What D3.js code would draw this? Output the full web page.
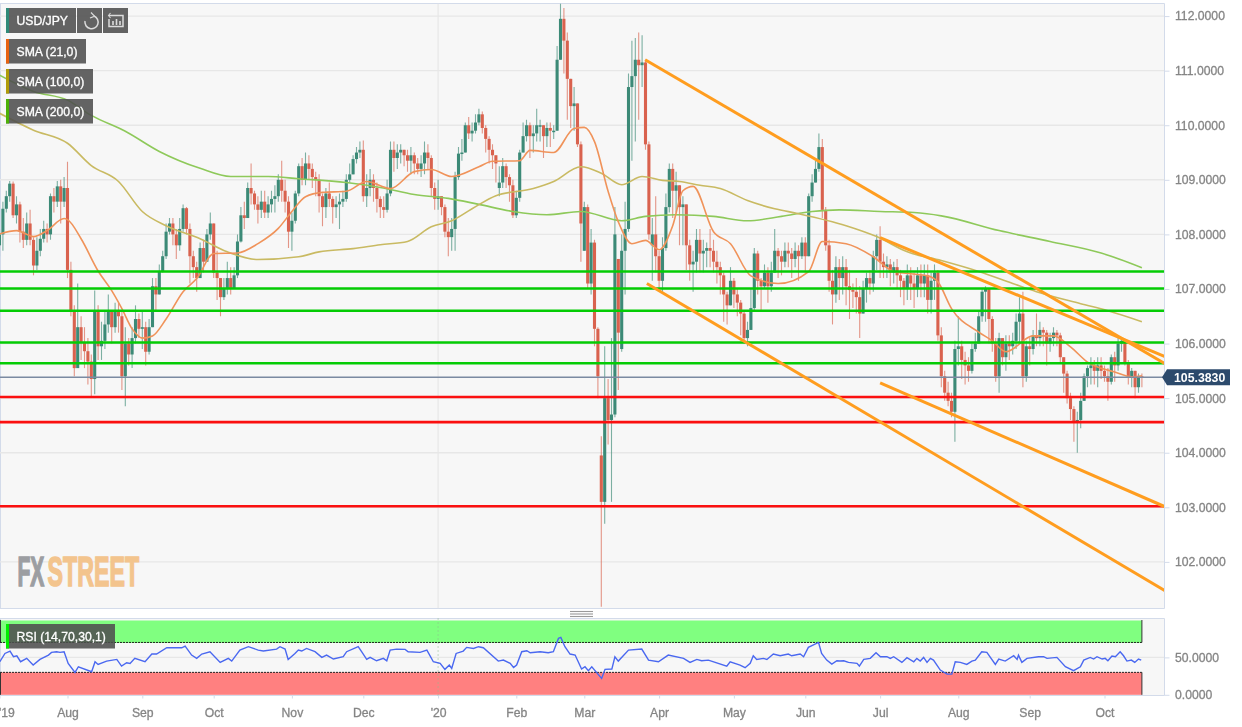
<!DOCTYPE html>
<html><head><meta charset="utf-8">
<script src="https://cdn.jsdelivr.net/npm/d3@7"></script>
<style>
html,body{margin:0;padding:0;background:#fff;overflow:hidden}
svg{display:block;filter:blur(0.35px)}
text{font-family:"Liberation Sans",Arial,sans-serif}
.axis text{fill:#858585;stroke:#858585;stroke-width:.3px;font-size:12.2px}
.axis path,.axis line{stroke:#d3dbea}
.lg{fill:#fff;stroke:#fff;stroke-width:.3px;font-size:12.2px}
</style></head><body><div id="c"></div>
<script>
// ---- daily close / high / low, one row per calendar month ----
const closes=[
108.0,108.47,108.7,108.93,108.35,108.55,108.05,107.9,108.2,107.9,107.43,107.7,107.92,108.1,108.0,108.7,108.6,108.88,108.6,108.85,
107.35,106.6,105.55,106.3,106.03,105.86,105.67,105.35,106.6,105.95,106.05,106.35,106.6,106.3,106.6,106.5,105.4,106.0,105.8,106.1,106.45,106.27,
106.3,105.85,106.3,107.05,106.9,107.33,107.6,108.05,108.2,108.0,107.8,108.1,108.48,108.1,107.6,107.4,107.2,107.75,107.5,108.0,108.2,
107.3,107.2,106.85,107.0,107.2,107.0,107.25,107.87,108.35,108.3,108.85,108.75,108.55,108.45,108.6,108.4,108.55,108.65,108.7,109.0,108.8,108.6,108.05,
108.25,108.75,109.25,109.0,109.3,109.2,109.05,109.0,108.7,108.5,108.75,108.65,108.5,108.55,108.6,108.65,109.0,109.1,109.38,109.5,109.55,
108.7,108.85,109.0,108.85,108.65,108.5,108.45,108.75,109.55,109.4,109.5,109.55,109.45,109.35,109.45,109.3,109.2,109.3,109.5,109.4,108.85,108.65,
108.7,108.5,108.05,107.95,108.1,109.05,109.48,109.5,110.0,109.85,109.9,110.05,110.2,109.95,109.75,109.55,109.45,109.3,108.95,109.25,109.05,108.9,108.35,
108.67,109.5,109.8,110.0,109.8,109.85,110.0,110.0,109.8,109.95,109.9,109.9,111.2,111.95,111.55,110.85,110.35,110.4,109.65,108.2,
108.5,107.1,107.85,106.27,105.4,103.1,105.0,104.6,104.7,108.0,106.2,107.7,108.1,110.7,110.9,111.2,111.1,111.15,109.65,108.0,108.0,107.6,
107.15,107.75,108.5,109.2,108.8,108.9,108.5,108.55,107.8,107.45,107.5,107.9,107.65,107.7,107.75,107.7,107.5,107.4,107.25,106.9,106.7,107.15,
106.9,106.75,106.55,106.1,106.25,106.65,107.65,107.15,107.05,107.3,107.05,107.3,107.7,107.6,107.5,107.7,107.65,107.55,107.7,107.6,107.85,
107.6,108.7,108.95,109.2,109.6,108.45,107.8,107.15,106.9,107.4,107.2,107.4,107.05,106.98,106.95,106.85,106.55,107.0,107.2,107.1,107.6,107.9,
107.5,107.4,107.45,107.3,107.4,107.25,107.15,107.0,107.25,107.1,107.0,107.25,107.1,107.25,106.8,107.15,107.3,106.15,105.4,105.1,104.95,104.75,105.9,
105.95,105.7,105.6,105.5,105.9,106.0,106.5,106.95,107.0,106.45,106.0,105.4,106.1,105.75,106.0,105.95,106.05,106.4,106.55,105.4,105.95,
105.9,106.15,106.1,106.25,106.2,106.0,106.1,106.2,106.15,105.75,105.45,105.0,104.8,104.55,104.6,104.95,105.4,105.55,105.6,105.5,105.6,105.5,
105.4,105.3,105.75,105.6,106.0,106.05,105.65,105.4,105.5,105.2,105.4,105.38];
const highs=[
108.1,108.6,108.8,108.98,108.97,108.7,108.6,108.3,108.4,108.45,107.95,107.95,108.1,108.25,108.2,108.75,108.85,108.98,109.0,109.05,
109.33,107.5,106.7,107.1,106.5,106.3,106.1,105.8,106.97,106.7,106.4,106.6,106.9,106.6,106.75,106.75,106.6,106.3,106.1,106.3,106.7,106.55,
106.6,106.4,106.45,107.2,107.2,107.45,107.7,108.2,108.3,108.3,108.1,108.3,108.55,108.5,108.2,107.7,107.5,107.85,107.9,108.1,108.4,
108.2,107.7,107.2,107.2,107.5,107.4,107.4,108.0,108.5,108.6,108.95,109.3,108.8,108.7,108.8,108.8,108.7,108.8,108.9,109.1,109.35,109.0,108.7,
108.4,108.8,109.3,109.4,109.5,109.45,109.3,109.15,109.1,108.75,108.85,108.95,108.7,108.7,108.75,108.8,109.1,109.3,109.45,109.6,109.7,
109.72,109.1,109.2,109.1,108.95,108.7,108.7,109.0,109.7,109.7,109.65,109.65,109.55,109.55,109.6,109.5,109.4,109.45,109.7,109.65,109.45,108.95,
109.0,108.7,108.55,108.3,108.3,109.15,109.6,109.75,110.05,110.15,110.05,110.2,110.3,110.25,110.0,109.8,109.65,109.45,109.25,109.4,109.3,109.1,109.0,
108.8,109.55,110.05,110.1,110.05,110.0,110.3,110.1,110.0,110.05,110.05,110.0,111.45,112.23,112.15,111.7,110.85,110.7,110.4,109.7,
108.6,108.55,108.1,107.9,106.3,104.3,105.95,105.35,106.1,108.5,107.55,108.0,108.6,110.95,111.55,111.6,111.7,111.65,111.2,109.7,108.3,108.7,
107.7,107.95,108.75,109.3,109.3,109.15,108.9,108.7,108.3,107.9,107.7,108.1,108.1,107.9,107.85,108.1,107.9,107.7,107.5,107.3,106.95,107.4,
107.2,107.0,106.8,106.6,106.4,107.0,107.75,107.7,107.2,107.45,107.4,107.5,108.1,107.75,107.7,107.85,107.85,107.75,107.85,107.8,107.95,
107.95,108.75,109.1,109.35,109.85,109.75,108.5,107.9,107.35,107.6,107.55,107.6,107.55,107.35,107.1,107.2,107.05,107.15,107.3,107.35,107.7,108.0,
108.15,107.65,107.6,107.55,107.5,107.55,107.35,107.2,107.45,107.4,107.3,107.4,107.45,107.45,107.45,107.3,107.45,107.35,106.3,105.5,105.3,105.1,106.05,
106.5,106.05,105.85,105.75,106.0,106.2,106.6,107.0,107.05,107.0,106.5,106.1,106.2,106.1,106.15,106.15,106.2,106.55,106.85,106.95,106.05,
106.1,106.25,106.55,106.4,106.3,106.25,106.2,106.3,106.25,106.2,105.75,105.5,105.1,104.85,104.75,105.1,105.45,105.6,105.75,105.7,105.75,105.75,
105.6,105.55,105.8,105.85,106.1,106.1,106.05,105.7,105.55,105.5,105.45,105.45];
const lows=[
107.6,107.7,108.4,108.6,108.3,108.2,107.85,107.75,107.8,107.8,107.25,107.35,107.6,107.85,107.85,107.9,108.4,108.5,108.2,108.5,
107.2,106.5,105.4,105.6,105.7,105.55,105.25,105.03,105.07,105.7,105.7,105.9,106.2,106.0,106.2,106.2,105.15,104.85,105.6,105.55,106.0,106.1,
105.9,105.6,105.8,106.3,106.6,106.9,107.3,107.55,108.0,107.8,107.55,107.7,108.05,108.0,107.1,107.2,106.95,107.2,107.3,107.5,107.9,
107.2,106.8,106.5,106.8,106.9,106.9,107.0,107.2,107.85,108.1,108.3,108.55,108.45,108.2,108.3,108.3,108.3,108.4,108.4,108.6,108.6,108.4,107.75,
107.7,108.2,108.7,108.9,108.9,109.0,108.85,108.7,108.4,108.15,108.3,108.5,108.2,108.3,108.1,108.5,108.6,108.95,109.1,109.3,109.4,
108.6,108.5,108.7,108.6,108.4,108.3,108.3,108.4,108.7,109.15,109.2,109.3,109.25,109.15,109.1,109.1,109.1,109.05,109.1,109.2,108.7,108.45,
108.45,108.35,107.95,107.6,107.7,107.7,109.0,109.35,109.5,109.75,109.7,109.85,110.0,109.85,109.5,109.3,109.2,108.95,108.7,108.85,108.85,108.6,108.3,
108.3,108.6,109.5,109.7,109.4,109.5,109.7,109.7,109.4,109.6,109.6,109.75,109.9,111.2,110.95,110.1,109.95,109.9,109.6,107.5,
107.9,107.0,106.9,105.95,105.0,101.18,102.7,104.15,103.1,104.65,105.15,105.85,106.9,108.05,109.35,109.7,110.1,110.7,109.55,107.9,107.15,107.3,
106.95,106.95,107.7,108.4,108.3,108.4,107.8,107.8,107.35,107.15,106.95,107.3,107.3,107.3,107.4,107.4,107.3,107.1,106.9,106.4,106.35,106.7,
106.65,106.5,106.15,106.0,105.95,106.25,106.6,106.9,106.6,107.0,106.75,106.95,107.3,107.2,107.25,107.4,107.4,107.2,107.4,107.15,107.55,
107.3,107.6,108.6,108.95,109.15,108.3,107.7,106.95,106.35,106.75,106.8,106.9,106.7,106.45,106.65,106.55,106.1,106.55,106.75,106.9,106.95,107.35,
107.2,107.2,107.2,107.05,107.1,107.0,106.85,106.7,106.8,106.8,106.65,106.85,106.85,106.85,106.55,106.55,106.8,106.05,105.2,104.95,104.85,104.65,104.2,
105.6,105.35,105.25,105.3,105.45,105.85,106.0,106.4,106.4,106.0,105.85,105.3,105.1,105.6,105.5,105.7,105.8,105.9,106.0,105.2,105.3,
105.6,105.8,105.95,105.95,105.95,105.6,105.85,105.95,105.95,105.65,105.1,104.9,104.6,104.2,104.0,104.45,104.95,105.2,105.25,105.25,105.2,105.35,
105.3,104.95,105.25,105.3,105.5,105.85,105.6,105.25,105.2,105.0,105.1,105.2];
// sessions that opened away from the previous close (bar number : open)
const gapOpens={147:108.85,172:107.7,177:103.95,182:107.55,183:105.9,192:107.8};

// moving averages at bar numbers
const sma21At=[0,5,10,14,19,20,24,29,33,36,39,42,45,49,54,58,63,70,76,82,86,90,95,102,108,115,122,127,133,141,145,153,156,163,169,172,175,179,182,186,190,194,198,201,204,210,215,221,229,238,242,249,257,263,273,276,280,288,292,296,304,310,315,320,328,333,336];
const sma21=[108.01,108.07,107.96,108.07,108.29,108.27,107.92,107.33,106.97,106.64,106.27,106.10,106.14,106.45,106.95,107.19,107.65,107.66,107.83,108.11,108.42,108.69,108.77,108.79,108.97,108.84,109.15,109.19,109.06,109.24,109.34,109.35,109.54,109.50,109.94,109.96,109.70,108.79,108.23,107.83,107.89,107.72,108.16,108.80,108.88,108.05,107.83,107.24,107.10,107.32,107.87,107.83,107.59,107.32,107.24,107.13,106.64,106.21,106.05,105.85,106.14,106.14,105.94,105.66,105.48,105.39,105.41];
const sma100At=[0,10,20,27,35,42,49,59,67,76,88,94,104,112,120,127,133,139,146,157,163,171,177,183,189,195,200,206,212,220,228,235,249,258,267,277,288,298,305,318,326,336];
const sma100=[110.22,109.91,109.67,109.26,108.97,108.42,108.16,107.92,107.68,107.54,107.59,107.68,107.74,107.81,107.87,108.14,108.25,108.47,108.71,108.84,108.97,109.24,109.12,108.91,109.06,108.99,108.97,108.90,108.84,108.62,108.47,108.38,108.16,107.96,107.68,107.52,107.32,107.10,106.95,106.73,106.60,106.40];
const sma200At=[0,10,20,27,37,47,59,68,79,88,102,112,122,132,141,151,161,171,183,190,199,210,220,230,239,247,259,269,277,294,309,324,336];
const sma200=[110.92,110.62,110.46,110.18,109.89,109.52,109.21,109.06,109.06,109.02,108.95,108.86,108.73,108.66,108.55,108.42,108.36,108.42,108.25,108.33,108.36,108.33,108.25,108.33,108.42,108.45,108.42,108.40,108.34,108.07,107.87,107.66,107.39];

// RSI
const rsiAt=[0.1,1.6,3.1,4.1,5.1,6.2,8,9.9,11.9,14.4,15.3,16.8,17.8,19,20.2,22.2,23.2,27.1,28.1,29,31.5,34.5,35.9,37.4,38.4,39.8,42.8,44.8,46.2,49.2,53.6,54.6,56.5,58,59.5,61.9,64.9,67.3,68.3,70.7,73.2,76.1,77.6,81.5,82.5,84,84.9,86.9,87.9,88.9,90.3,92.8,94.8,96.2,98.2,101.1,102.1,105.5,106.5,108,109,110.9,112.9,113.9,114.9,116.8,119.3,120.2,123.7,
125.7,127.6,129.6,131,132.3,133,134.3,136.4,137.4,139.4,140.9,142.3,146.7,148.2,150.2,151.2,152.1,153.6,155.1,156.1,159,161.4,162.9,164.4,165.1,166.3,167.8,169.3,171.2,172.2,173.2,174.2,177.1,178.1,180.1,181,182,185,188.9,190.9,193.8,196.7,201.2,203.1,205.1,206.5,208.5,213.9,214.9,217.8,219.3,220.8,221.7,222.7,224.7,225.7,227.6,229.6,232,233,235.5,236.5,237.9,240.9,241.8,243.3,244.8,246.3,247.2,
248.3,249.7,252.2,252.9,254.2,256.1,257.8,259.1,261,262,263,265.4,266.9,268.9,269.8,270.8,271.8,272.8,273.8,274.7,276.7,278.7,280.1,281.1,282.6,284.5,286,287,288.9,290.4,292.9,293.9,295.8,298.3,299.3,299.7,300.7,302.2,305.6,307.1,308.1,311,313.5,315.9,317.9,318.9,320.8,321.8,322.8,324.3,325.2,326,327.2,328.2,329.6,330.6,331.6,332.9,333.9,335,335.8];
const rsiValues=[44.2,55.3,58.5,50.9,52.2,44.2,48.7,39.8,47.3,53.1,56.7,57.6,56.7,57.6,42,29.9,37.5,30.8,44.2,40.6,45.1,47.3,38.4,42.9,42,48.7,44.2,54.5,54.5,62.9,62.9,65.2,53.1,48.7,54.5,57.6,43.3,48.7,45.1,59.8,64.3,59.8,58.5,61.1,64.3,61.1,47.3,55.3,59.8,58.5,62,57.6,50,53.1,47.8,50.9,57.6,64.3,57.6,47.3,50,45.5,48.7,45.5,59.8,61.1,60.7,57.6,56.7,
59.8,44.2,42,34,39.8,35.3,55.3,58.5,63.4,62,64.3,62.9,45.1,46.4,42,36.6,39.8,57.6,58.9,56.2,57.6,56.2,57.6,75.4,76.7,64.3,54.5,53.1,34.4,37.5,32.2,37.5,21.9,34,34.4,50.9,45.1,59.8,61.1,46.4,44.2,53.1,48.7,43.3,47.3,45.5,46.4,38.4,44.2,39.8,36.2,42,52.2,47.3,48.7,47.3,54.5,52.2,54.5,52.2,54.5,50.9,63.4,70,55.3,46.4,41.1,45.5,45.1,
45.5,43.3,42,38.4,47.3,48.7,56.2,50.9,50.9,48.7,50.9,43.3,49.6,44.2,48.7,45.1,50,43.3,48.7,46.4,33.1,27.7,27.7,44.2,43.3,40.6,45.1,46.4,57.6,56.7,40.6,47.8,45.1,52.2,47.3,53.1,43.3,48.7,50.9,50.9,48.7,50,37.5,32.2,37.5,46.4,50,47.8,50.9,47.8,48.7,45.5,51.8,50.9,57.6,52.2,45.1,46.4,43.3,47.8,46.4];

// levels and trend lines
const supportLevels=[107.32,107.01,106.60,106.02,105.64];
const resistLevels=[105.02,104.56,103.02];
const lastPrice=105.383;
const trendLines=[[189.9,111.20,342.8,105.63],[259,107.94,342.8,105.76],[190.4,107.10,342.8,101.47],[259,105.28,342.8,103.01]];
// axes
const priceTicks=[102,103,104,105,106,107,108,109,110,111,112];
const rsiTicks=[0,50];
const monthAt=[0,20,42,63,86,107,129,152,172,194,216,237,259,282,303,325];
const monthNames=["'19","Aug","Sep","Oct","Nov","Dec","'20","Feb","Mar","Apr","May","Jun","Jul","Aug","Sep","Oct"];

if(closes.length!==337||highs.length!==337||lows.length!==337) throw new Error("len "+closes.length+" "+highs.length+" "+lows.length);
if(rsiAt.length!==rsiValues.length||sma21At.length!==sma21.length||sma100At.length!==sma100.length||sma200At.length!==sma200.length) throw new Error("series len "+rsiAt.length+" "+rsiValues.length);

const W=1242,H=727,plotR=1164.5,mainT=3.5,mainB=608.5,rsiT=618.5,rsiB=695.5;
const x=d3.scaleLinear().domain([0,336]).range([-0.5,1141.9]);
const y=d3.scaleLinear().domain([101.155,112.225]).range([608,3.8]);
const yr=d3.scaleLinear().domain([0,100]).range([694.8,620]);
const svg=d3.select("#c").append("svg").attr("width",W).attr("height",H);
const defs=svg.append("defs");
defs.append("clipPath").attr("id","m").append("rect").attr("x",0).attr("y",mainT).attr("width",plotR).attr("height",mainB-mainT);

// panels
svg.append("rect").attr("x",0).attr("y",mainT).attr("width",plotR).attr("height",mainB-mainT).attr("fill","#f7f7f7");
svg.append("rect").attr("x",0).attr("y",rsiT).attr("width",plotR).attr("height",rsiB-rsiT).attr("fill","#f7f7f7");
[[mainT],[mainB],[rsiT],[rsiB]].forEach(([v])=>svg.append("line").attr("x1",0).attr("x2",plotR).attr("y1",v).attr("y2",v).attr("stroke","#d3dbea").attr("stroke-width",1.2));
[[mainT,mainB],[rsiT,rsiB]].forEach(([a,b])=>svg.append("line").attr("x1",0.5).attr("x2",0.5).attr("y1",a).attr("y2",b).attr("stroke","#d3dbea"));

// handle between panes
[611.5,614,616.5].forEach(v=>svg.append("line").attr("x1",570).attr("x2",593).attr("y1",v).attr("y2",v).attr("stroke","#9a9a9a").attr("stroke-width",1.1));

const m=svg.append("g").attr("clip-path","url(#m)");
// grid
m.selectAll("line.g").data(priceTicks).join("line").attr("x1",0).attr("x2",plotR).attr("y1",d=>y(d)).attr("y2",d=>y(d)).attr("stroke","#e7e7e7").attr("stroke-width",1.4);
m.append("line").attr("x1",x(129)).attr("x2",x(129)).attr("y1",mainT).attr("y2",mainB).attr("stroke","#e7e7e7").attr("stroke-width",1.2);

// logo
const logo=m.append("g").attr("font-weight","bold").attr("font-size",43).attr("stroke-width",1.6);
logo.append("text").attr("transform","translate(17.5,586) scale(.49,1)").attr("fill","#9c9ea2").attr("stroke","#9c9ea2").text("FX");
logo.append("text").attr("transform","translate(47.5,586) scale(.54,1)").attr("fill","#f3c48d").attr("stroke","#f3c48d").text("STREET");

// candles
const bars=closes.map((c,i)=>{
  const o=gapOpens[i]!==undefined?gapOpens[i]:(i?closes[i-1]:c-0.2);
  return {i,o,c,h:Math.max(highs[i],o,c),l:Math.min(lows[i],o,c)};
});
const upC="#3c8a77",dnC="#d9624e";
const cg=m.append("g");
cg.selectAll("line").data(bars).join("line")
  .attr("x1",d=>x(d.i)).attr("x2",d=>x(d.i)).attr("y1",d=>y(d.h)).attr("y2",d=>y(d.l))
  .attr("stroke",d=>d.c>=d.o?upC:dnC).attr("stroke-width",1.1).attr("stroke-opacity",.66);
cg.selectAll("rect").data(bars).join("rect")
  .attr("x",d=>x(d.i)-1.55).attr("width",3.1)
  .attr("y",d=>y(Math.max(d.o,d.c))).attr("height",d=>Math.max(1.5,Math.abs(y(d.o)-y(d.c))))
  .attr("fill",d=>d.c>=d.o?upC:dnC);

// moving averages
const sl=d3.line().x(d=>x(d[0])).y(d=>y(d[1])).curve(d3.curveMonotoneX);
const sma=[[sma200At,sma200,"#8ec95a"],[sma100At,sma100,"#c9ba62"],[sma21At,sma21,"#f0935a"]];
sma.forEach(([a,v,col])=>m.append("path").attr("d",sl(a.map((t,k)=>[t,v[k]]))).attr("fill","none").attr("stroke",col).attr("stroke-width",1.6));

// levels
m.selectAll("line.sup").data(supportLevels).join("line").attr("x1",0).attr("x2",plotR).attr("y1",d=>y(d)).attr("y2",d=>y(d)).attr("stroke","#04cc04").attr("stroke-width",2.6);
m.selectAll("line.res").data(resistLevels).join("line").attr("x1",0).attr("x2",plotR).attr("y1",d=>y(d)).attr("y2",d=>y(d)).attr("stroke","#fb1010").attr("stroke-width",2.6);
m.append("line").attr("x1",0).attr("x2",plotR).attr("y1",y(lastPrice)).attr("y2",y(lastPrice)).attr("stroke","#7b8aa1").attr("stroke-width",1.7);
m.selectAll("line.tr").data(trendLines).join("line").attr("x1",d=>x(d[0])).attr("y1",d=>y(d[1])).attr("x2",d=>x(d[2])).attr("y2",d=>y(d[3])).attr("stroke","#ff9d1f").attr("stroke-width",3);

// price axis
const ax=svg.append("g").attr("class","axis").attr("transform",`translate(${plotR},0)`).call(d3.axisRight(y).tickValues(priceTicks).tickFormat(d3.format(".4f")).tickSize(5).tickPadding(5.5));
ax.select(".domain").attr("d",`M0,${mainT}V${mainB}`);

// last price tag
const tag=svg.append("g");
tag.append("path").attr("d",d3.line()([[1162,y(lastPrice)],[1167,y(lastPrice)-8],[1230,y(lastPrice)-8],[1230,y(lastPrice)+8],[1167,y(lastPrice)+8]])+"Z").attr("fill","#2c4a6c");
tag.append("text").attr("x",1174).attr("y",y(lastPrice)+4.4).attr("fill","#fff").attr("font-size",12.3).attr("font-weight","bold").text(d3.format(".4f")(lastPrice));

// RSI pane
svg.append("rect").attr("x",0).attr("y",yr(100)+.5).attr("width",x(336)).attr("height",yr(70)-yr(100)).attr("fill","#80ff80");
svg.append("rect").attr("x",0).attr("y",yr(30)).attr("width",x(336)).attr("height",yr(0)-yr(30)).attr("fill","#ff8080");
svg.append("line").attr("x1",0).attr("x2",plotR).attr("y1",yr(50)).attr("y2",yr(50)).attr("stroke","#e7e7e7").attr("stroke-width",1.4);
svg.append("line").attr("x1",x(129)).attr("x2",x(129)).attr("y1",rsiT).attr("y2",rsiB).attr("stroke","#8dbb8d").attr("stroke-width",1).attr("stroke-dasharray","1,3");
[70,30].forEach(v=>svg.append("line").attr("x1",0).attr("x2",x(336)).attr("y1",yr(v)).attr("y2",yr(v)).attr("stroke","#222").attr("stroke-width",1).attr("stroke-dasharray","2,1"));
[[100,70],[30,0]].forEach(([a,b])=>{
  svg.append("line").attr("x1",x(336)).attr("x2",x(336)).attr("y1",yr(a)).attr("y2",yr(b)).attr("stroke","#333");
  svg.append("line").attr("x1",0.5).attr("x2",0.5).attr("y1",yr(a)).attr("y2",yr(b)).attr("stroke","#333");
});
svg.append("path").attr("d",d3.line().x(d=>x(d[0])).y(d=>yr(d[1]))(rsiAt.map((t,k)=>[t,rsiValues[k]]))).attr("fill","none").attr("stroke","#4a68f0").attr("stroke-width",1.4);
const ar=svg.append("g").attr("class","axis").attr("transform",`translate(${plotR},0)`).call(d3.axisRight(yr).tickValues(rsiTicks).tickFormat(d3.format(".4f")).tickSize(5).tickPadding(5.5));
ar.select(".domain").attr("d",`M0,${rsiT}V${rsiB}`);

// time axis
const xa=svg.append("g").attr("class","axis").attr("transform",`translate(0,${rsiB})`).call(d3.axisBottom(x).tickValues(monthAt).tickFormat((d,i)=>monthNames[i]).tickSize(3).tickPadding(10));
xa.select(".domain").remove();
xa.selectAll("text").filter((d,i)=>i===0).attr("text-anchor","start").attr("dx",-1);

// legends
const legends=[["USD/JPY",8,70,"#2f8a78"],["SMA (21,0)",39,80,"#e8620f"],["SMA (100,0)",69,87,"#b09c08"],["SMA (200,0)",99,87,"#4cb108"],["RSI (14,70,30,1)",624,109,"#00ee00"]];
legends.forEach(([t,ty,w,col])=>{
  svg.append("rect").attr("x",6).attr("y",ty).attr("width",w).attr("height",t==="USD/JPY"?25:24.5).attr("fill","#4e4e4e").attr("fill-opacity",.88);
  svg.append("rect").attr("x",6).attr("y",ty).attr("width",3).attr("height",t==="USD/JPY"?25:24.5).attr("fill",col);
  svg.append("text").attr("class","lg").attr("x",16.5).attr("y",ty+16.5).text(t);
});
[77,103].forEach(bx=>svg.append("rect").attr("x",bx).attr("y",8).attr("width",25).attr("height",25).attr("fill","#4e4e4e").attr("fill-opacity",.88));
const ic=svg.append("g").attr("fill","none").attr("stroke","#dcdcdc").attr("stroke-width",1.5);
ic.append("path").attr("d","M94,16 A6.6,6.6 0 1 1 85,21");
ic.append("path").attr("d","M91,12.5 L94.5,16.2 L90,18").attr("stroke-width",1.2);
ic.append("path").attr("d","M110,15.5 H123 V26.5 H109 V19");
ic.append("path").attr("d","M113,25 V21 M116.5,25 V19 M120,25 V21").attr("stroke-width",1.6);
ic.append("path").attr("d","M112,15.5 H109 M110.5,13 L108.5,15.5 L110.5,18").attr("stroke-width",1.1);
</script></body></html>
